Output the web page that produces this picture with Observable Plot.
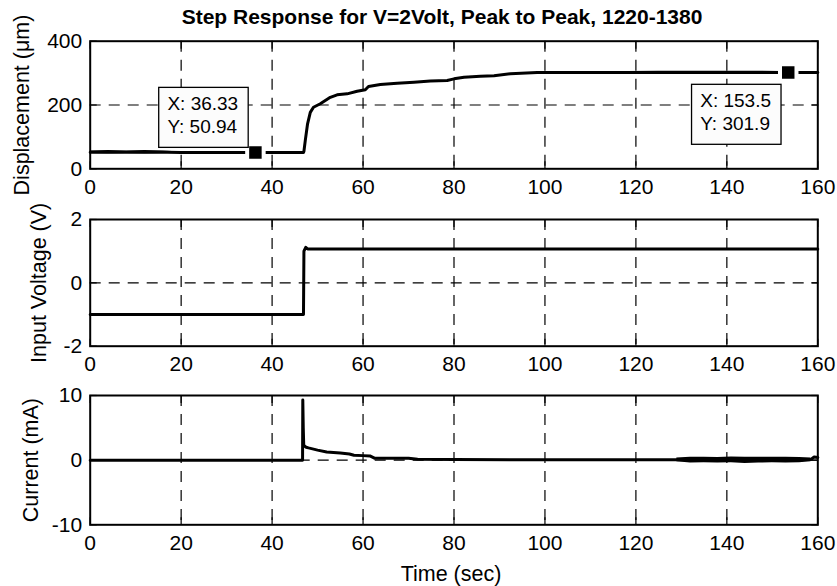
<!DOCTYPE html>
<html><head><meta charset="utf-8">
<script src="https://cdn.jsdelivr.net/npm/d3@7"></script>
<script src="https://cdn.jsdelivr.net/npm/@observablehq/plot@0.6"></script>
<style>
body{margin:0;background:#fff;}
#chart{position:relative;width:837px;height:586px;overflow:hidden;background:#fff;}
#chart svg{position:absolute;left:0;}
</style></head><body><div id="chart"></div>
<script>
// ---------- data ----------
const titleText = "Step Response for V=2Volt, Peak to Peak, 1220-1380";
const xLabel = "Time (sec)";
const yLabelDisp = "Displacement (\u03bcm)";
const yLabelVolt = "Input Voltage (V)";
const yLabelCurr = "Current (mA)";
const xTicks = [0, 20, 40, 60, 80, 100, 120, 140, 160];
const dispTicks = [0, 200, 400];
const voltTicks = [-2, 0, 2];
const currTicks = [-10, 0, 10];

// displacement (µm) vs time (s)
const dispT = [0, 17, 20, 30, 36.33, 46.9, 47.0, 47.3, 47.8, 48.4, 49.1, 50.6, 52.8, 54.3, 56.5, 58.7, 60.5, 61.2, 63.8, 67.5, 71.2, 74.8, 78.5, 80, 82.2, 85.8, 88.8, 92.4, 98.3, 110, 120, 130, 140, 150, 153.5, 160];
const dispV = [52, 52, 51, 51, 50.94, 51, 55, 89, 141, 177, 193, 204, 224, 232, 235, 243, 248, 258, 264, 268, 271, 275, 277, 282, 287, 290, 292, 298, 302, 302, 302, 302, 302, 302, 301.9, 302];
// noisy envelopes of displacement
const dispNoiseT = [0, 4, 8, 12, 16, 18];
const dispNoiseHi = [56, 57, 56, 57, 56, 54];
const dispNoiseLo = [48, 47, 48, 47, 48, 50];
const dispNoise2T = [118, 125, 135, 145, 152];
const dispNoise2Hi = [305, 306, 306, 306, 305];
const dispNoise2Lo = [299, 298, 298, 298, 299];

// input voltage (V)
const voltT = [0, 46.9, 47.0, 47.4, 47.8, 160];
const voltV = [-1, -1, 1.0, 1.12, 1.07, 1.07];

// current (mA)
const currT = [0, 46.7, 46.75, 46.85, 46.95, 47.1, 47.5, 48, 50, 52, 55, 57, 58, 60, 61.5, 62.5, 65, 70, 72, 80, 100, 120, 129, 158.5, 159.2, 160];
const currV = [0, 0, 9.3, 5.0, 2.4, 2.2, 2.0, 1.9, 1.55, 1.25, 1.1, 0.95, 0.75, 0.7, 0.65, 0.3, 0.3, 0.3, 0.15, 0.1, 0.05, 0.05, 0.05, 0.1, 0.5, 0.4];
const currNoiseT = [129, 132, 135, 138, 141, 144, 147, 150, 153, 156, 158.5];
const currNoiseHi = [0.35, 0.45, 0.45, 0.4, 0.5, 0.45, 0.45, 0.45, 0.45, 0.4, 0.35];
const currNoiseLo = [-0.25, -0.45, -0.4, -0.45, -0.4, -0.5, -0.45, -0.4, -0.45, -0.4, -0.25];

// data tips
const tipX = [36.33, 153.5];
const tipY = [50.94, 301.9];
const tipXText = ["36.33", "153.5"];
const tipYText = ["50.94", "301.9"];

// ---------- build tables ----------
const zip = (t, v) => t.map((x, i) => ({t: x, v: v[i]}));
const band = (t, lo, hi) => t.map((x, i) => ({t: x, lo: lo[i], hi: hi[i]}));
const dispData = zip(dispT, dispV);
const voltData = zip(voltT, voltV);
const currData = zip(currT, currV);
const tips = tipX.map((x, i) => ({x, y: tipY[i], label: `X: ${tipXText[i]}\nY: ${tipYText[i]}`}));

// ---------- styling ----------
const W = 837, ML = 89.7, MR = 19.7;
const FONT = "'Liberation Sans', Arial, Helvetica, sans-serif";
const LW = 3;
const grid = {stroke: "black", strokeWidth: 1.2, strokeDasharray: "11,8"};
const fmt = d => String(d);

function panel(o) {
  const inner = o.yTicks.slice(1, -1);
  return Plot.plot({
    width: W, height: o.height,
    marginLeft: ML, marginRight: MR, marginTop: o.mt, marginBottom: o.mb,
    style: {fontFamily: FONT, fontSize: "21px", color: "black", background: "transparent", overflow: "visible"},
    x: {domain: [0, 160]},
    y: {domain: o.yDomain},
    marks: [
      Plot.ruleX(xTicks.slice(1, -1), grid),
      Plot.ruleY(inner, grid),
      ...o.marks,
      Plot.axisX(xTicks, {anchor: "bottom", tickSize: 0, tickPadding: 10, tickFormat: fmt, label: null}),
      Plot.axisX(xTicks, {anchor: "bottom", tickSize: -7, tickFormat: () => "", label: null, strokeWidth: 1.2}),
      Plot.axisX(xTicks, {anchor: "top", tickSize: -7, tickFormat: () => "", label: null, strokeWidth: 1.2}),
      Plot.axisY(o.yTicks, {anchor: "left", tickSize: 0, tickPadding: 8, tickFormat: fmt, label: null}),
      Plot.axisY(o.yTicks, {anchor: "left", tickSize: -7, tickFormat: () => "", label: null, strokeWidth: 1.2}),
      Plot.axisY(o.yTicks, {anchor: "right", tickSize: -7, tickFormat: () => "", label: null, strokeWidth: 1.2}),
      Plot.frame({stroke: "black", strokeWidth: 2}),
      Plot.text([o.label], {text: d => d, frameAnchor: "left", textAnchor: "middle", lineAnchor: "middle", rotate: -90, dx: o.labelOff, fontSize: 21.5}),
      ...(o.extra || [])
    ]
  });
}

const chart = document.getElementById("chart");

const svg1 = panel({
  height: 200, mt: 40.7, mb: 31.7, yDomain: [0, 400], yTicks: dispTicks,
  label: yLabelDisp, labelOff: -67.8,
  marks: [
    Plot.areaY(band(dispNoiseT, dispNoiseLo, dispNoiseHi), {x: "t", y1: "lo", y2: "hi", fill: "black"}),
    Plot.areaY(band(dispNoise2T, dispNoise2Lo, dispNoise2Hi), {x: "t", y1: "lo", y2: "hi", fill: "black"}),
    Plot.line(dispData, {x: "t", y: "v", stroke: "black", strokeWidth: LW}),
    Plot.dot(tips, {x: "x", y: "y", symbol: "square", r: 9.3, fill: "black", stroke: "white", strokeWidth: 4}),
    Plot.text(tips.slice(0, 1), {x: "x", y: "y", text: "label", textAnchor: "start", lineAnchor: "top", dx: -88, dy: -58.5, fontSize: 19, lineHeight: 1.21}),
    Plot.text(tips.slice(1, 2), {x: "x", y: "y", text: "label", textAnchor: "start", lineAnchor: "top", dx: -88, dy: 18.5, fontSize: 19, lineHeight: 1.21})
  ],
  extra: [
    Plot.text([titleText], {text: d => d, frameAnchor: "top", lineAnchor: "top", dy: -32.3, dx: -12, fontWeight: "bold", fontSize: 21})
  ]
});
svg1.style.top = "0px";
chart.appendChild(svg1);

const svg2 = panel({
  height: 185, mt: 19, mb: 39.3, yDomain: [-2, 2], yTicks: voltTicks,
  label: yLabelVolt, labelOff: -51,
  marks: [
    Plot.line(voltData, {x: "t", y: "v", stroke: "black", strokeWidth: LW})
  ]
});
svg2.style.top = "200px";
chart.appendChild(svg2);

const svg3 = panel({
  height: 201, mt: 10, mb: 61.7, yDomain: [-10, 10], yTicks: currTicks,
  label: yLabelCurr, labelOff: -59.4,
  marks: [
    Plot.areaY(band(currNoiseT, currNoiseLo, currNoiseHi), {x: "t", y1: "lo", y2: "hi", fill: "black"}),
    Plot.line(currData, {x: "t", y: "v", stroke: "black", strokeWidth: LW})
  ],
  extra: [
    Plot.text([xLabel], {text: d => d, frameAnchor: "bottom", lineAnchor: "top", dy: 41.4, dx: -3, fontSize: 21.5})
  ]
});
svg3.style.top = "385px";
chart.appendChild(svg3);

// data-tip boxes behind the tip texts
d3.select(svg1).selectAll("text").filter(function () { return this.textContent.startsWith("X:"); }).each(function () {
  const b = this.getBBox();
  const padL = 8.7, padR = 10, padT = 6, padB = 10;
  const r = document.createElementNS("http://www.w3.org/2000/svg", "rect");
  r.setAttribute("x", b.x - padL);
  r.setAttribute("y", b.y - padT);
  r.setAttribute("width", b.width + padL + padR);
  r.setAttribute("height", b.height + padT + padB);
  r.setAttribute("fill", "#fcfcfc");
  r.setAttribute("stroke", "black");
  r.setAttribute("stroke-width", 1.3);
  const tr = this.getAttribute("transform");
  if (tr) r.setAttribute("transform", tr);
  this.parentNode.insertBefore(r, this);
});
</script>
</body></html>
